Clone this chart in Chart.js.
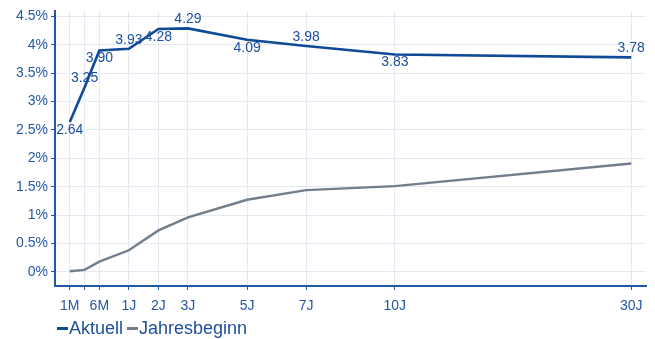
<!DOCTYPE html>
<html>
<head>
<meta charset="utf-8">
<script src="https://cdn.jsdelivr.net/npm/chart.js@4.4.1/dist/chart.umd.min.js"></script>
<style>
  html, body { margin: 0; padding: 0; background: #fff; }
  #wrap { position: relative; width: 655px; height: 339px; }
  #legend {
    position: absolute; left: 57px; top: 317px;
    font: 18px "Liberation Sans", Arial, sans-serif; line-height: 22px;
    color: #1d4f9c; white-space: nowrap;
  }
  #legend .item { display: inline-block; margin-right: 4px; }
  #legend .mark { display: inline-block; width: 11px; height: 3px; vertical-align: middle; margin-right: 1px; position: relative; top: -1px; }
</style>
</head>
<body>
<div id="wrap">
  <canvas id="curveChart" width="655" height="339"></canvas>
  <div id="legend"></div>
</div>
<script>
// === Data ===
const categories = ["1M", "3M", "6M", "1J", "2J", "3J", "5J", "7J", "10J", "30J"];
const xPos = [0, 0.5, 1, 2, 3, 4, 6, 8, 11, 19];          // axis value of each maturity
const tickLabels = ["1M", "", "6M", "1J", "2J", "3J", "5J", "7J", "10J", "30J"];
const aktuell = [2.64, 3.25, 3.90, 3.93, 4.28, 4.29, 4.09, 3.98, 3.83, 3.78];
const jahresbeginn = [0.01, 0.035, 0.18, 0.38, 0.73, 0.96, 1.27, 1.44, 1.51, 1.91];
const yTicks = [0, 0.5, 1, 1.5, 2, 2.5, 3, 3.5, 4, 4.5];
const seriesNames = ["Aktuell", "Jahresbeginn"];

// === Colours ===
const BLUE = "#0e4a97";
const GREY = "#737e8c";
const AXIS = "#2058a8";
const TEXT = "#2458a6";
const GRID = "#e3eaf4";
const FONT = "'Liberation Sans', Arial, sans-serif";

// === Value labels on the Aktuell line ===
const valueLabels = {
  id: "valueLabels",
  afterDatasetsDraw(chart) {
    const ctx = chart.ctx;
    const meta = chart.getDatasetMeta(0);
    ctx.save();
    ctx.font = "14px " + FONT;
    ctx.fillStyle = "#1d4f9c";
    ctx.textAlign = "center";
    ctx.textBaseline = "middle";
    meta.data.forEach((pt, i) => {
      const dy = i % 2 === 0 ? 8 : -9;
      ctx.fillText(aktuell[i].toFixed(2), pt.x, pt.y + dy);
    });
    ctx.restore();
  }
};

const toPoints = vals => vals.map((v, i) => ({ x: xPos[i], y: v }));

new Chart(document.getElementById("curveChart").getContext("2d"), {
  type: "line",
  data: {
    datasets: [
      { label: seriesNames[0], data: toPoints(aktuell), borderColor: BLUE, borderWidth: 2.6, pointRadius: 0, tension: 0 },
      { label: seriesNames[1], data: toPoints(jahresbeginn), borderColor: GREY, borderWidth: 2.4, pointRadius: 0, tension: 0 }
    ]
  },
  options: {
    responsive: false,
    animation: false,
    layout: { padding: { top: 10, right: 9, bottom: 27, left: 0 } },
    plugins: { legend: { display: false }, tooltip: { enabled: false } },
    scales: {
      x: {
        type: "linear",
        min: -0.5,
        max: 19.5,
        afterBuildTicks: s => { s.ticks = xPos.map(v => ({ value: v })); },
        afterFit: s => { s.height = 26; },
        grid: { color: GRID, tickColor: AXIS, tickLength: 4, lineWidth: 1 },
        border: { color: AXIS, width: 2 },
        ticks: {
          autoSkip: false, maxRotation: 0, padding: 8,
          color: TEXT, font: { family: FONT, size: 14 },
          callback: v => tickLabels[xPos.indexOf(v)]
        }
      },
      y: {
        min: -0.25,
        max: 4.59,
        afterBuildTicks: s => { s.ticks = yTicks.map(v => ({ value: v })); },
        afterFit: s => { s.width = 55; },
        grid: { color: GRID, tickColor: AXIS, tickLength: 4, lineWidth: 1 },
        border: { color: AXIS, width: 2 },
        ticks: {
          padding: 3, color: TEXT, font: { family: FONT, size: 14 },
          callback: v => v + "%"
        }
      }
    }
  },
  plugins: [valueLabels]
});

// === Legend ===
const colors = [BLUE, GREY];
document.getElementById("legend").innerHTML = seriesNames.map((n, i) =>
  `<span class="item"><span class="mark" style="background:${colors[i]}"></span>${n}</span>`
).join("");
</script>
</body>
</html>
